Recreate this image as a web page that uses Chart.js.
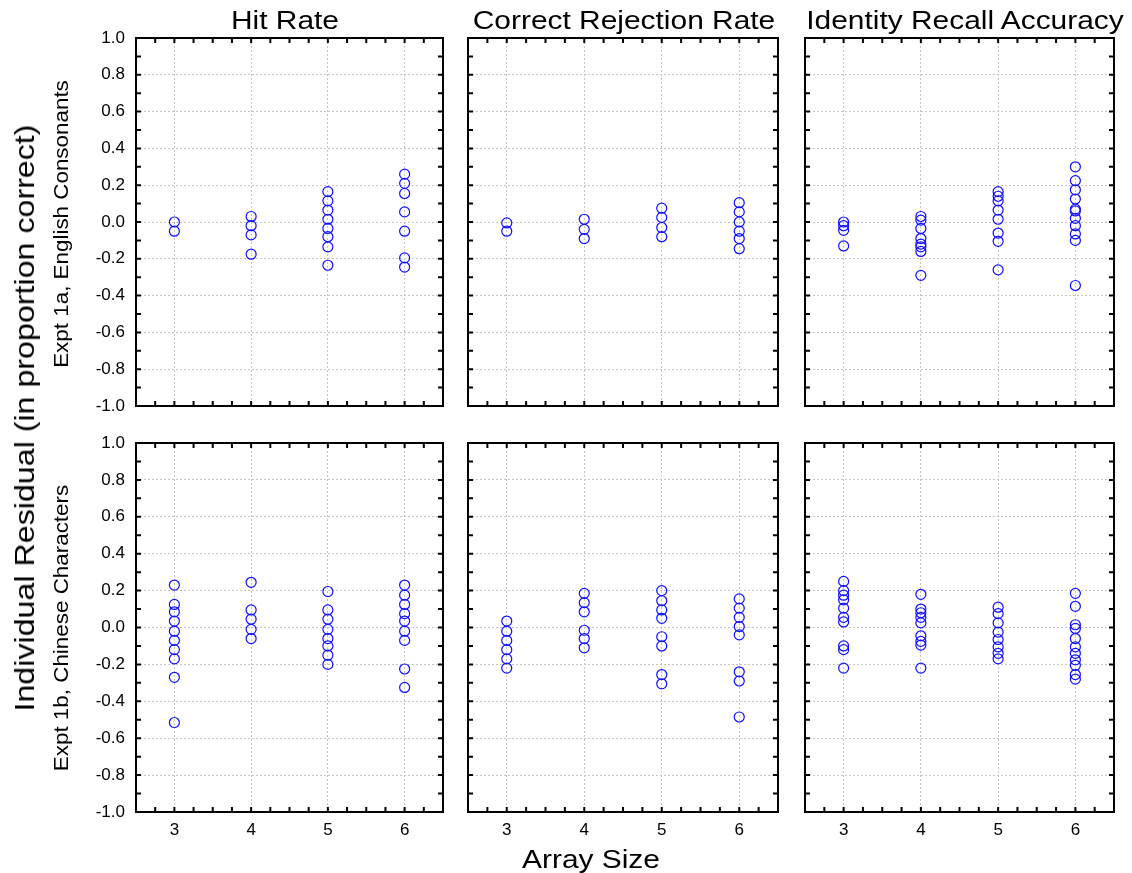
<!DOCTYPE html>
<html>
<head>
<meta charset="utf-8">
<script src="https://cdn.jsdelivr.net/npm/chart.js@4.4.1/dist/chart.umd.min.js"></script>
<style>
  body { margin: 0; background: #fff; }
  #fig { position: relative; width: 1132px; height: 873px; overflow: hidden; font-family: "Liberation Sans", Arial, sans-serif; }
  #fig canvas { position: absolute; left: 0; top: 0; }
  .lbl { position: absolute; white-space: nowrap; line-height: 1; color: #000; }
</style>
</head>
<body>
<div id="fig"></div>
<script>
// values (residuals per array size 3,4,5,6)
const arraySizes = [3, 4, 5, 6]
const xTickValues = [3, 4, 5, 6]
const yTickStep = 0.2

const hitRate1a = [
  [0.0, -0.05],
  [0.03, -0.02, -0.07, -0.175],
  [0.165, 0.115, 0.065, 0.015, -0.035, -0.08, -0.135, -0.235],
  [0.26, 0.21, 0.155, 0.055, -0.05, -0.195, -0.245]
]
const crRate1a = [
  [-0.005, -0.05],
  [0.015, -0.04, -0.09],
  [0.075, 0.025, -0.03, -0.08],
  [0.105, 0.055, 0.0, -0.05, -0.09, -0.145]
]
const idRecall1a = [
  [0.0, -0.02, -0.045, -0.13],
  [0.03, 0.01, -0.035, -0.09, -0.12, -0.135, -0.16, -0.29],
  [0.165, 0.14, 0.115, 0.065, 0.015, -0.06, -0.105, -0.26],
  [0.3, 0.225, 0.175, 0.125, 0.07, 0.06, 0.02, -0.02, -0.065, -0.1, -0.345]
]
const hitRate1b = [
  [0.23, 0.125, 0.085, 0.035, -0.02, -0.07, -0.12, -0.17, -0.27, -0.515],
  [0.245, 0.095, 0.045, -0.01, -0.06],
  [0.195, 0.095, 0.045, -0.01, -0.06, -0.1, -0.15, -0.2],
  [0.23, 0.175, 0.125, 0.075, 0.035, -0.02, -0.07, -0.225, -0.325]
]
const crRate1b = [
  [0.035, -0.02, -0.07, -0.12, -0.17, -0.22],
  [0.185, 0.135, 0.085, -0.015, -0.06, -0.11],
  [0.2, 0.145, 0.095, 0.05, -0.05, -0.1, -0.255, -0.305],
  [0.155, 0.105, 0.055, 0.005, -0.04, -0.24, -0.29, -0.485]
]
const idRecall1b = [
  [0.25, 0.2, 0.175, 0.15, 0.105, 0.055, 0.03, -0.1, -0.12, -0.22],
  [0.18, 0.1, 0.08, 0.055, 0.025, -0.045, -0.075, -0.095, -0.22],
  [0.11, 0.075, 0.025, -0.025, -0.065, -0.105, -0.14, -0.17],
  [0.185, 0.115, 0.015, -0.005, -0.06, -0.105, -0.14, -0.175, -0.205, -0.255, -0.28]
]

const W = 1132, H = 873
const yw = 50, xh = 30
const fig = document.getElementById("fig")

// plot areas in page pixels
const panels = [
  { data: hitRate1a, l: 136, t: 38, r: 443, b: 406, yl: true, xl: false },
  { data: crRate1a, l: 468, t: 38, r: 778, b: 406, yl: false, xl: false },
  { data: idRecall1a, l: 805, t: 38, r: 1114, b: 406, yl: false, xl: false },
  { data: hitRate1b, l: 136, t: 443, r: 443, b: 812, yl: true, xl: true },
  { data: crRate1b, l: 468, t: 443, r: 778, b: 812, yl: false, xl: true },
  { data: idRecall1b, l: 805, t: 443, r: 1114, b: 812, yl: false, xl: true }
]

// black box with short inward ticks on all four sides
const framePlugin = {
  id: "frame",
  afterDraw(chart) {
    const ctx = chart.ctx
    const a = chart.chartArea
    const x = chart.scales.x, y = chart.scales.y
    ctx.save()
    ctx.strokeStyle = "#000"
    ctx.lineWidth = 2
    ctx.beginPath()
    for (let i = -10; i <= 10; i++) {
      const py = y.getPixelForValue(i / 10)
      ctx.moveTo(a.left, py); ctx.lineTo(a.left + 5, py)
      ctx.moveTo(a.right, py); ctx.lineTo(a.right - 5, py)
    }
    for (let i = 0; i <= 16; i++) {
      const px = x.getPixelForValue(x.min + i * 0.25)
      ctx.moveTo(px, a.top); ctx.lineTo(px, a.top + 5)
      ctx.moveTo(px, a.bottom); ctx.lineTo(px, a.bottom - 5)
    }
    ctx.stroke()
    ctx.strokeRect(a.left, a.top, a.right - a.left, a.bottom - a.top)
    ctx.restore()
  }
}

const tickFont = { family: "'Liberation Sans', Arial, sans-serif", size: 17 }

panels.forEach(p => {
  const c = document.createElement("canvas")
  c.width = W
  c.height = H
  fig.appendChild(c)
  const pts = []
  arraySizes.forEach((s, i) => {
    p.data[i].forEach(v => pts.push({ x: s, y: v }))
  })
  new Chart(c, {
    type: "scatter",
    data: {
      datasets: [{
        data: pts,
        pointStyle: "circle",
        pointRadius: 5,
        pointHoverRadius: 5,
        pointBorderWidth: 1.2,
        borderColor: "#0f0fff",
        backgroundColor: "rgba(0,0,0,0)"
      }]
    },
    options: {
      responsive: false,
      animation: false,
      events: [],
      layout: { padding: { left: p.l - yw, top: p.t, right: W - p.r, bottom: H - p.b - xh } },
      plugins: { legend: { display: false }, tooltip: { enabled: false } },
      scales: {
        x: {
          type: "linear",
          min: 2.5,
          max: 6.5,
          afterBuildTicks: s => { s.ticks = xTickValues.map(v => ({ value: v })) },
          afterFit: s => { s.height = xh },
          grid: { color: "#c4c4c4", lineWidth: 1, drawTicks: false },
          border: { display: false, dash: [2, 2] },
          ticks: { display: p.xl, font: tickFont, color: "#000", padding: 8 }
        },
        y: {
          min: -1,
          max: 1,
          afterFit: s => { s.width = yw },
          grid: { color: "#c4c4c4", lineWidth: 1, drawTicks: false },
          border: { display: false, dash: [2, 2] },
          ticks: {
            display: p.yl,
            stepSize: yTickStep,
            font: tickFont,
            color: "#000",
            padding: 11,
            callback: v => (Math.abs(v) < 1e-9 ? 0 : v).toFixed(1)
          }
        }
      }
    },
    plugins: [framePlugin]
  })
})

// figure text
const labels = [
  { text: "Hit Rate", x: 285, y: 20, size: 26, k: 1.15, rot: 0 },
  { text: "Correct Rejection Rate", x: 624, y: 20, size: 26, k: 1.15, rot: 0 },
  { text: "Identity Recall Accuracy", x: 965, y: 20, size: 26, k: 1.15, rot: 0 },
  { text: "Array Size", x: 591, y: 859, size: 26, k: 1.15, rot: 0 },
  { text: "Individual Residual (in proportion correct)", x: 25, y: 418, size: 28, k: 1.15, rot: -90 },
  { text: "Expt 1a, English Consonants", x: 61, y: 224, size: 20, k: 1.12, rot: -90 },
  { text: "Expt 1b, Chinese Characters", x: 61, y: 628, size: 20, k: 1.12, rot: -90 }
]
labels.forEach(t => {
  const d = document.createElement("div")
  d.className = "lbl"
  d.textContent = t.text
  d.style.left = t.x + "px"
  d.style.top = t.y + "px"
  d.style.fontSize = t.size + "px"
  d.style.transform = "translate(-50%,-50%) rotate(" + t.rot + "deg) scaleX(" + t.k + ")"
  fig.appendChild(d)
})
</script>
</body>
</html>
